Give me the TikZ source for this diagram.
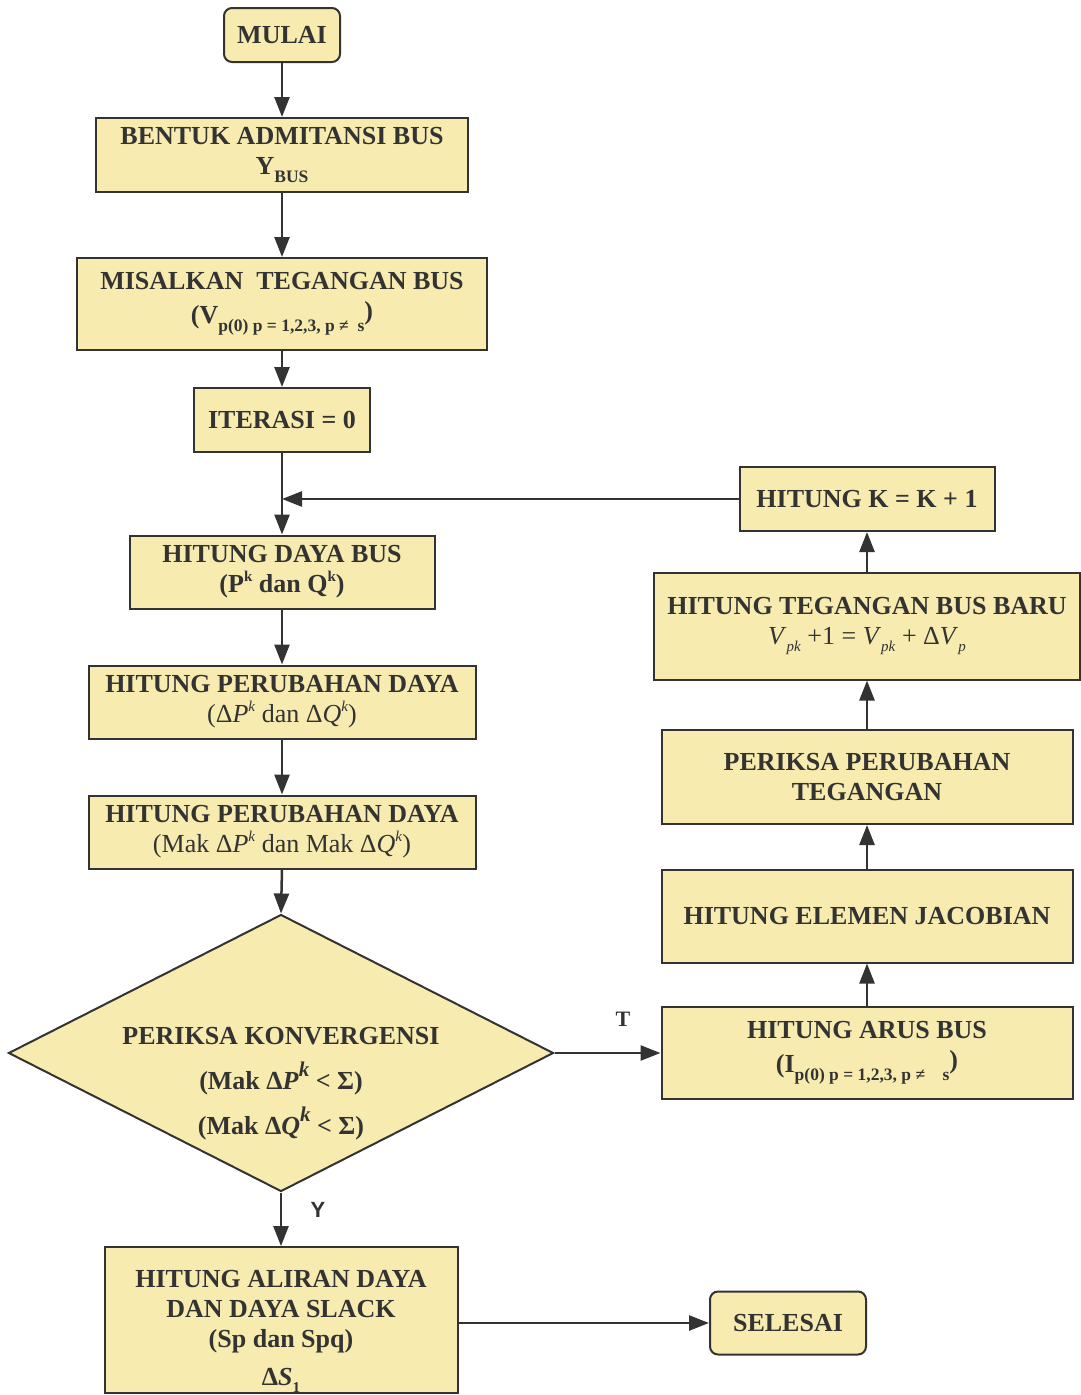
\documentclass[tikz,border=0pt]{standalone}
\usepackage{fontspec}
\setmainfont{Liberation Serif}
\newfontfamily\sansfam{Liberation Sans}
\usetikzlibrary{arrows.meta,shapes.geometric}
\definecolor{boxfill}{HTML}{F7EBB0}
\definecolor{ink}{HTML}{333333}
\newcommand\lowtxt[1]{\raisebox{-0.3em}{\fontsize{15}{15}\selectfont #1}}
\newcommand\lowbig[1]{\raisebox{-0.3em}{\fontsize{17.5}{17.5}\selectfont #1}}
\newcommand\hightxt[1]{\raisebox{0.45em}{\fontsize{15}{15}\selectfont #1}}
\newcommand\bighigh[1]{\raisebox{0.5em}{\fontsize{21}{21}\selectfont #1}}
\begin{document}
\begin{tikzpicture}[x=1pt,y=-1pt,
  box/.style={draw=ink, fill=boxfill, line width=2pt, inner sep=0pt, align=center, text=ink,
              font=\fontsize{26}{30}\selectfont\bfseries},
  arr/.style={draw=ink, line width=2.5pt, -{Triangle[length=20pt,width=15pt]}},
  lbl/.style={text=ink, inner sep=0pt},
]
\useasboundingbox (0,0) rectangle (1081,1395);
\fill[white] (0,0) rectangle (1081,1395);

% left column
\node[box, rounded corners=8pt, minimum width=116, minimum height=54] (mulai) at (282,35) {MULAI};
\node[box, minimum width=372, minimum height=74] (ybus) at (282,155) {BENTUK ADMITANSI BUS\\Y\lowbig{BUS}};
\node[box, minimum width=410, minimum height=92] (misal) at (282,304)
  {MISALKAN\ \ TEGANGAN BUS\\[4pt](V\lowbig{p(0) p = 1,2,3, p ≠\ \ s}\raisebox{0.15em}{)}};
\node[box, minimum width=176, minimum height=64] (iter) at (282,420) {ITERASI = 0};
\node[box, minimum width=305, minimum height=73] (daya) at (282,572) {HITUNG DAYA BUS\\(P\hightxt{k} dan Q\hightxt{k})};
\node[box, minimum width=387, minimum height=73] (ubah1) at (282,702)
  {HITUNG PERUBAHAN DAYA\\{\mdseries(Δ\textit{P}\hightxt{\textit{k}} dan Δ\textit{Q}\hightxt{\textit{k}})}};
\node[box, minimum width=387, minimum height=73] (ubah2) at (282,832)
  {HITUNG PERUBAHAN DAYA\\{\mdseries(Mak Δ\textit{P}\hightxt{\textit{k}} dan Mak Δ\textit{Q}\hightxt{\textit{k}})}};
\node[diamond, draw=ink, fill=boxfill, line width=2pt, inner sep=0pt,
      minimum width=545, minimum height=277] (dia) at (281,1053) {};
\node[lbl, align=center, font=\fontsize{26}{45}\selectfont\bfseries] (diatxt) at (281,1084)
  {PERIKSA KONVERGENSI\\(Mak Δ\textit{P}\bighigh{\textit{k}} < Σ)\\(Mak Δ\textit{Q}\bighigh{\textit{k}} < Σ)};
\node[box, minimum width=353, minimum height=144] (alir) at (281,1320)
  {\rule{0pt}{40pt}HITUNG ALIRAN DAYA\\DAN DAYA SLACK\\(Sp dan Spq)\\[8pt]Δ\textit{S}\lowtxt{1}};
\node[box, rounded corners=8pt, minimum width=156, minimum height=63] (selesai) at (788,1323) {SELESAI};

% right column
\node[box, minimum width=255, minimum height=64] (hitk) at (867,499) {HITUNG K = K + 1};
\node[box, minimum width=426, minimum height=107] (baru) at (867,626)
  {HITUNG TEGANGAN BUS BARU\\{\mdseries\textit{V}\lowtxt{\textit{pk}} +1 = \textit{V}\lowtxt{\textit{pk}} + Δ\textit{V}\lowtxt{\textit{p}}}};
\node[box, minimum width=411, minimum height=94] (periksa) at (867,777) {PERIKSA PERUBAHAN\\TEGANGAN};
\node[box, minimum width=411, minimum height=93] (jacob) at (867,916) {HITUNG ELEMEN JACOBIAN};
\node[box, minimum width=411, minimum height=92] (arus) at (867,1053)
  {HITUNG ARUS BUS\\[4pt](I\lowbig{p(0) p = 1,2,3, p ≠\ \ \ \ s}\raisebox{0.15em}{)}};

% labels
\node[lbl, font=\fontsize{22}{22}\selectfont\bfseries] (tlab) at (623,1019) {T};
\node[lbl, font=\sansfam\fontsize{22}{22}\selectfont\bfseries] (ylab) at (318,1210) {Y};

% connectors
\draw[arr] (mulai.south) -- (ybus.north);
\draw[arr] (ybus.south) -- (misal.north);
\draw[arr] (misal.south) -- (iter.north);
\draw[arr] (iter.south) -- (daya.north);
\draw[arr] (hitk.west) -- (iter.south |- hitk.west);
\draw[arr] (daya.south) -- (ubah1.north);
\draw[arr] (ubah1.south) -- (ubah2.north);
\draw[arr] (ubah2.south) -- (dia.north);
\draw[arr] (dia.east) -- (arus.west);
\draw[arr] (dia.south) -- (alir.north);
\draw[arr] (alir.east |- selesai.west) -- (selesai.west);
\draw[arr] (arus.north) -- (jacob.south);
\draw[arr] (jacob.north) -- (periksa.south);
\draw[arr] (periksa.north) -- (baru.south);
\draw[arr] (baru.north) -- (hitk.south);
\end{tikzpicture}
\end{document}
